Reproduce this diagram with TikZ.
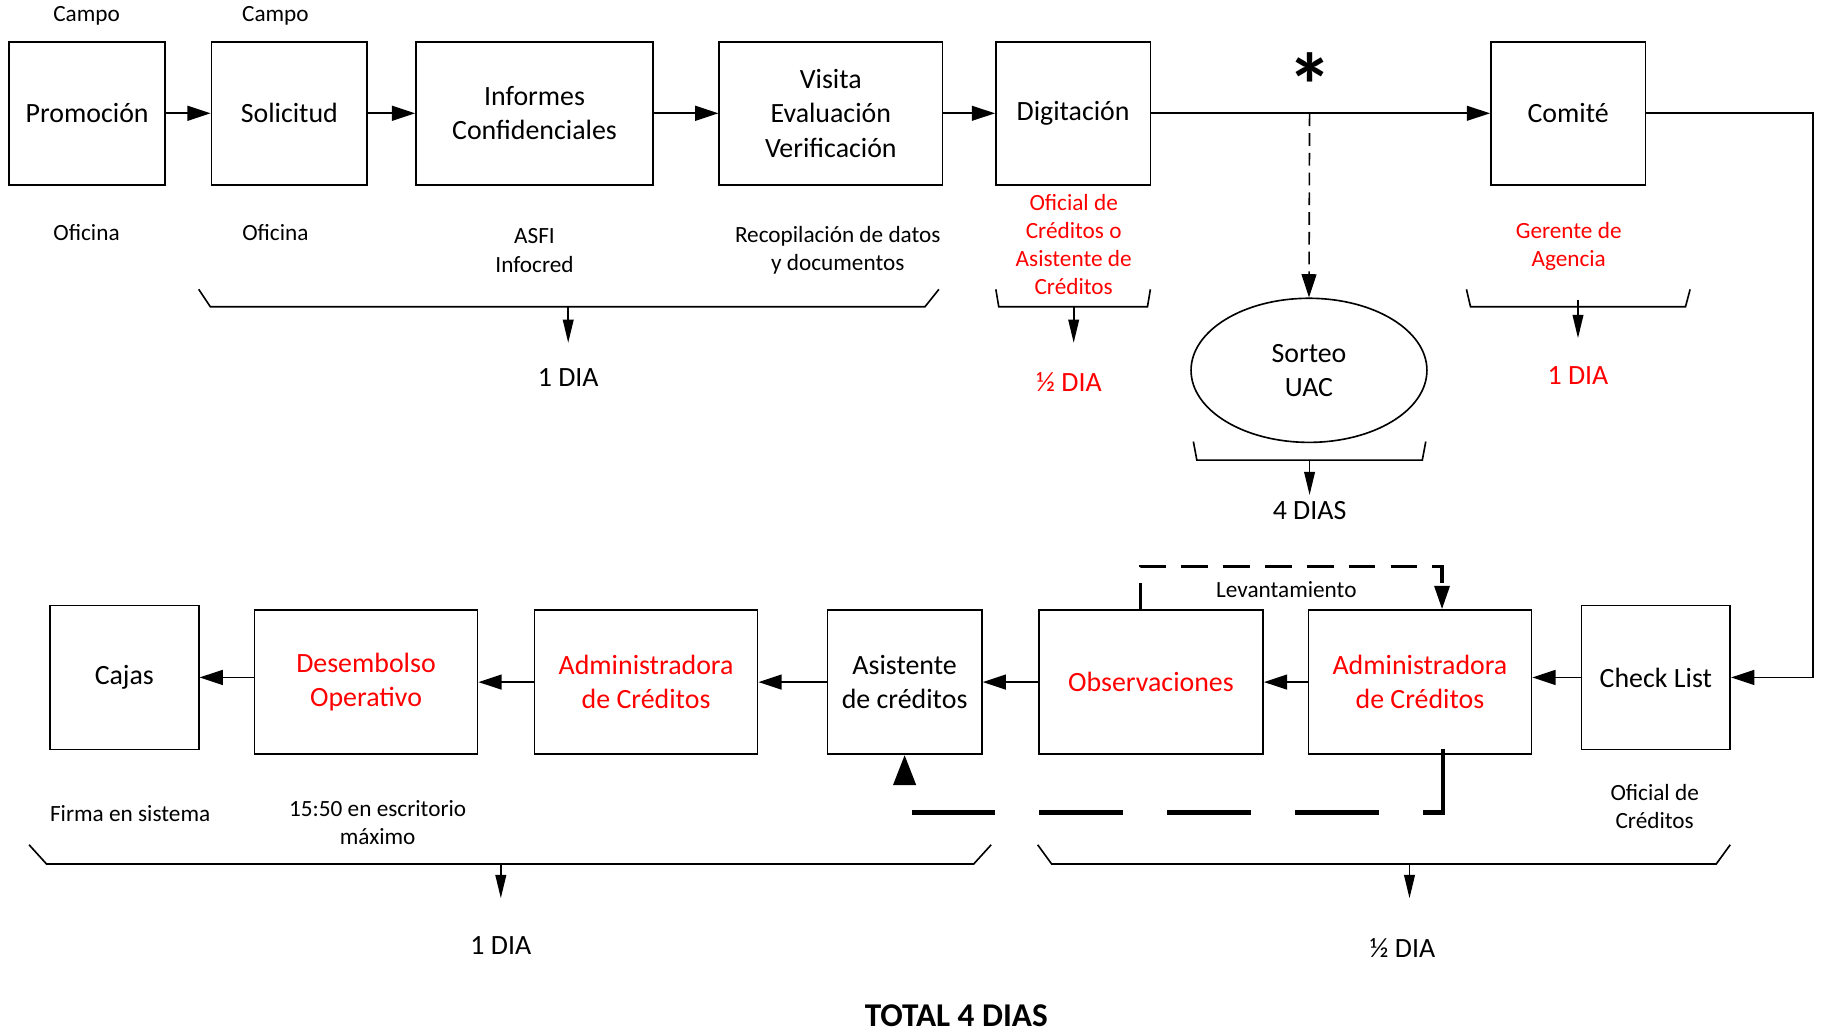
\documentclass[tikz,border=0pt]{standalone}
\usepackage{fontspec}
\setmainfont{Carlito}
\usetikzlibrary{arrows.meta,shapes.geometric}
\definecolor{labred}{RGB}{255,0,0}

\begin{document}
\begin{tikzpicture}[x=0.5pt,y=-0.5pt,
  line width=0.7pt,
  box/.style={draw, rectangle, inner sep=0pt, align=center,
    font=\fontsize{12}{14.8}\selectfont},
  toprow/.style={box, minimum height=61.5pt},
  lowrow/.style={box, minimum height=62pt},
  note/.style={align=center, inner sep=0pt, font=\fontsize{10}{12.3}\selectfont},
  days/.style={align=center, inner sep=0pt, font=\fontsize{12}{14.8}\selectfont},
  hot/.style={text=labred},
  flow/.style={-{Triangle[length=10pt,width=6.4pt]}},
  tally/.style={-{Triangle[length=10pt,width=4.6pt]}},
  brace/.style={line join=miter},
]
\useasboundingbox (0,0) rectangle (1568,888);

% ---------- upper process row ----------
\node[toprow, minimum width=67pt]   (promo)  at (75,97.5)     {Promoción};
\node[toprow, minimum width=67pt]   (soli)   at (249,97.5)    {Solicitud};
\node[toprow, minimum width=102pt]  (info)   at (460,97.5)    {Informes\\Confidenciales};
\node[toprow, minimum width=96pt]   (visita) at (715,97.5)    {Visita\\Evaluación\\Verificación};
\node[toprow, minimum width=66.5pt] (digit)  at (923.5,97.5)  {Digitación};
\node[toprow, minimum width=66.5pt] (comite) at (1349.5,97.5) {Comité};

\draw[flow] (promo) -- (soli);
\draw[flow] (soli) -- (info);
\draw[flow] (info) -- (visita);
\draw[flow] (visita) -- (digit);
\draw[flow] (digit) -- (comite);

% draw for the UAC
\coordinate (split) at (1127,97.5);
\node[inner sep=0pt, font=\fontsize{39}{40}\bfseries\selectfont] (star) at (1127.4,73.6) {*};
\node[draw, ellipse, inner sep=0pt, minimum width=101.5pt, minimum height=62pt,
      align=center, font=\fontsize{12}{14.8}\selectfont] (sorteo) at (1126.5,318.7) {Sorteo\\UAC};
\draw[flow, dash pattern=on 5.5pt off 3pt] (split) -- (sorteo.north);

% ---------- labels of the upper row ----------
\node[note] (campo1) at (74.5,14) {Campo};
\node[note] (campo2) at (237,14) {Campo};
\node[note] (ofi1) at (74.5,200) {Oficina};
\node[note] (ofi2) at (237,200) {Oficina};
\node[note] (asfi) at (460,215.5) {ASFI\\Infocred};
\node[note] (recop) at (721,215.5) {Recopilación de datos\\y documentos};
\node[note, hot, font=\fontsize{10}{12.15}\selectfont] (ofcred) at (924,210.5) {Oficial de\\Créditos o\\Asistente de\\Créditos};
\node[note, hot] (gerente) at (1350,212) {Gerente de\\Agencia};

% ---------- time braces, upper part ----------
\draw[brace] (171,249) -- (181,264) -- (796,264) -- (808,249);
\coordinate (b1) at (489,264); \coordinate (b1e) at (489,295);
\draw[tally] (b1) -- (b1e);
\node[days] (d1) at (489,325) {1 DIA};

\draw[brace] (857,249) -- (859.5,264) -- (987.5,264) -- (990,249);
\coordinate (b2) at (924,264); \coordinate (b2e) at (924,295);
\draw[tally] (b2) -- (b2e);
\node[days, hot] (d2) at (920,329) {½ DIA};

\draw[brace] (1262,249) -- (1265.5,264) -- (1450.5,264) -- (1454.5,249);
\coordinate (b3) at (1358,258); \coordinate (b3e) at (1358,291);
\draw[tally] (b3) -- (b3e);
\node[days, hot] (d3) at (1358,323) {1 DIA};

\draw[brace] (1027,380) -- (1030,396) -- (1224,396) -- (1227,380);
\coordinate (b4) at (1127,396); \coordinate (b4e) at (1127,426);
\draw[tally] (b4) -- (b4e);
\node[days] (d4) at (1127,439) {4 DIAS};

% ---------- lower process row ----------
\node[lowrow, minimum width=64pt]   (cajas)  at (107,583)    {Cajas};
\node[lowrow, minimum width=96pt]   (desem)  at (315,587)    {\textcolor{labred}{Desembolso}\\\textcolor{labred}{Operativo}};
\node[lowrow, minimum width=96pt]   (adminL) at (556,587)    {\textcolor{labred}{Administradora}\\\textcolor{labred}{de Créditos}};
\node[lowrow, minimum width=66.5pt] (asist)  at (778.5,587)  {Asistente\\de créditos};
\node[lowrow, minimum width=96.5pt] (obs)    at (990.5,587)  {\textcolor{labred}{Observaciones}};
\node[lowrow, minimum width=96pt]   (adminR) at (1222,587)   {\textcolor{labred}{Administradora}\\\textcolor{labred}{de Créditos}};
\node[lowrow, minimum width=64pt]   (check)  at (1425,583)   {Check List};

\coordinate (turn) at (1560,97.5);
\draw[flow] (comite.east) -- (turn) |- (check.east);
\draw[flow] (check.west) -- (adminR.east |- check.west);
\draw[flow] (adminR) -- (obs);
\draw[flow] (obs) -- (asist);
\draw[flow] (asist) -- (adminL);
\draw[flow] (adminL) -- (desem);
\draw[flow] (desem.west |- cajas.east) -- (cajas.east);

% correction loop
\draw[line width=1.5pt, dash pattern=on 11.5pt off 6.5pt, -{Triangle[length=10pt,width=6.4pt]}]
  ([xshift=-4.4pt]obs.north) -- ++(0,-37) -| ([xshift=9.5pt]adminR.north);
\node[note] (levant) at (1107,507) {Levantamiento};

% return to the assistant
\draw[line width=1.8pt, line join=miter, dash pattern=on 36pt off 19pt,
      -{Triangle[length=13pt,width=9.5pt]}]
  ([xshift=10pt,yshift=2.5pt]adminR.south) -- ++(0,54.5) -| (asist.south);

% ---------- labels of the lower row ----------
\node[note] (firma) at (112,700) {Firma en sistema};
\node[note, font=\fontsize{10}{12}\selectfont] (hora) at (325,708) {15:50 en escritorio\\máximo};
\node[note, font=\fontsize{10}{12}\selectfont] (ofcred2) at (1424,694) {Oficial de\\Créditos};

% ---------- time braces, lower part ----------
\draw[brace] (25,727) -- (40,743.5) -- (838,743.5) -- (853,727);
\coordinate (b5) at (431,743.5); \coordinate (b5e) at (431,773);
\draw[tally] (b5) -- (b5e);
\node[days] (d5) at (431,814) {1 DIA};

\draw[brace] (893,727) -- (905,743.5) -- (1477,743.5) -- (1489,727);
\coordinate (b6) at (1213,743.5); \coordinate (b6e) at (1213,773);
\draw[tally] (b6) -- (b6e);
\node[days] (d6) at (1207,816) {½ DIA};

\node[inner sep=0pt, font=\fontsize{14.3}{16}\bfseries\selectfont] (total) at (823,874) {TOTAL 4 DIAS};
\end{tikzpicture}
\end{document}
